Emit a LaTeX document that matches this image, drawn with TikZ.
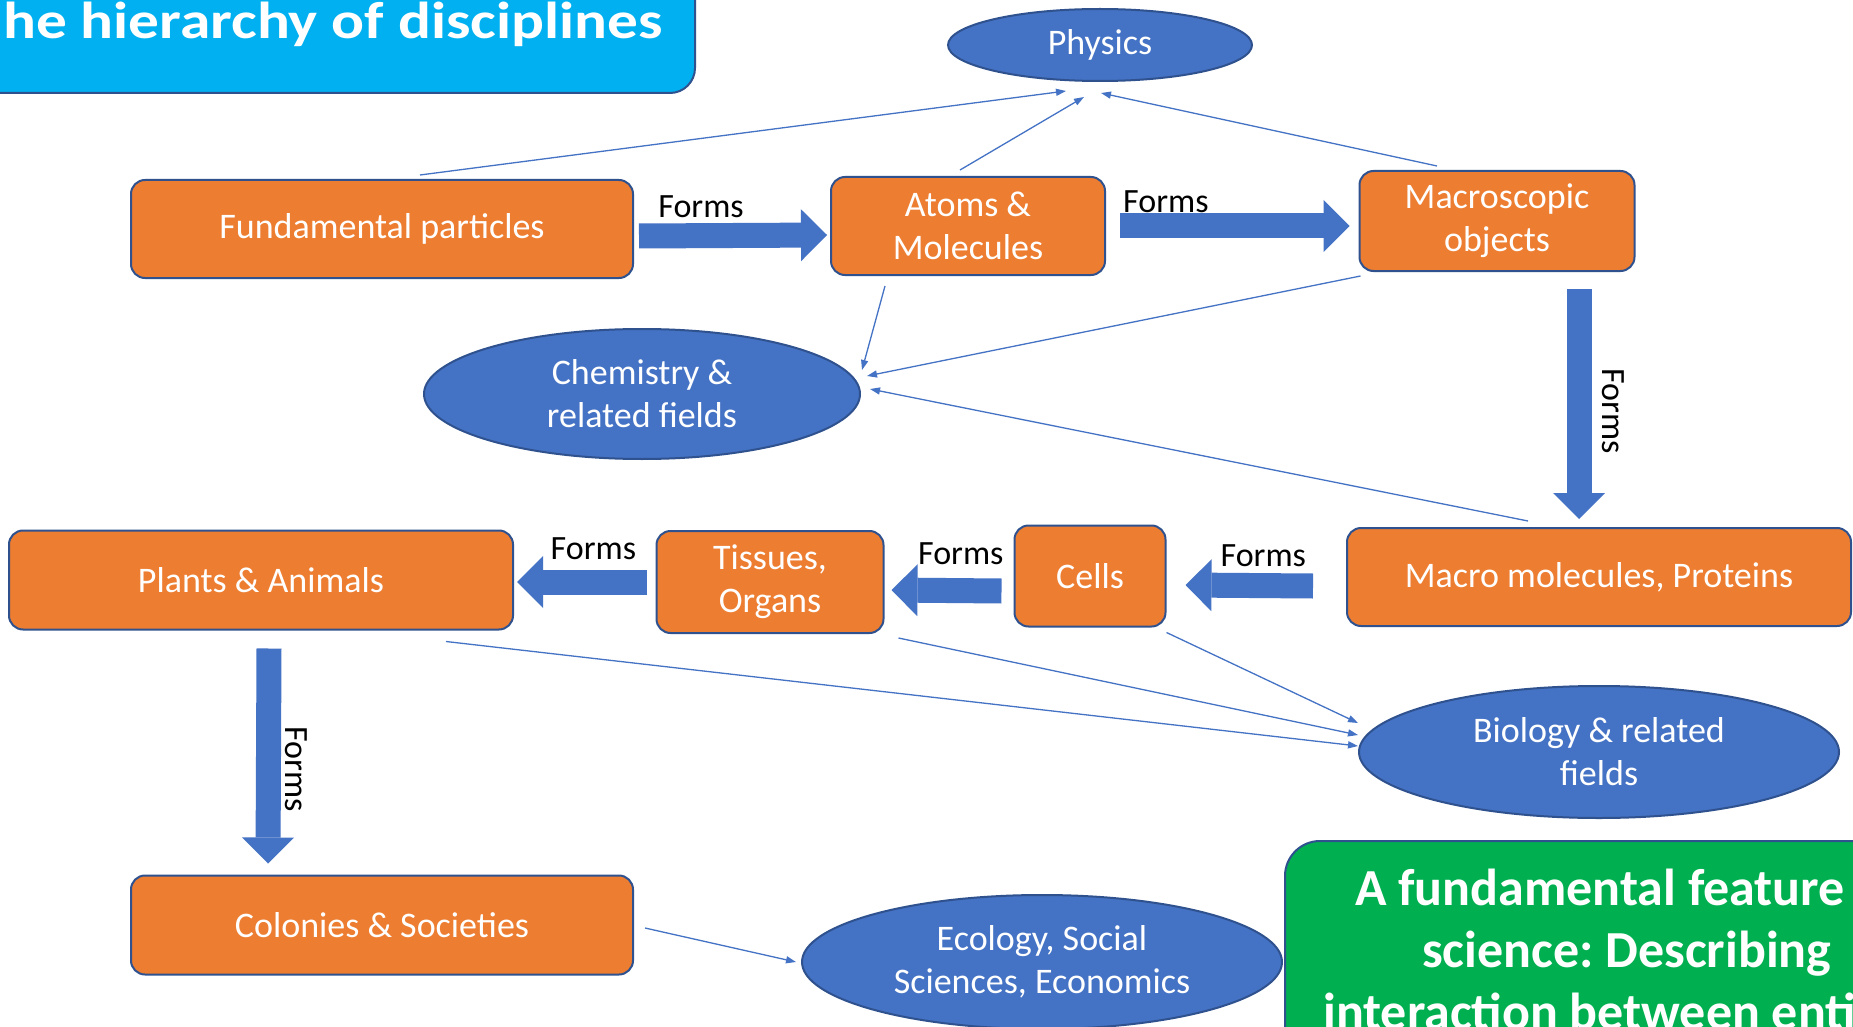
\documentclass[tikz,border=0pt]{standalone}
\usepackage{fontspec}
\setmainfont{Carlito}
\usetikzlibrary{arrows.meta, shapes.geometric}
\frenchspacing

\definecolor{boxorange}{HTML}{ED7D31}
\definecolor{fieldblue}{HTML}{4472C4}
\definecolor{edgeblue}{HTML}{2F528F}
\definecolor{titlecyan}{HTML}{00B0F0}
\definecolor{notegreen}{HTML}{00B050}

\begin{document}
\begin{tikzpicture}[
        x=1pt, y=-1pt,
        every node/.style={inner sep=0pt},
        box/.style={
          draw=edgeblue,
          line width=2pt,
          fill=boxorange,
          rounded corners=14pt,
          text=white,
          align=center,
          font=\fontsize{36}{43}\selectfont
        },
        field/.style={
          ellipse,
          draw=edgeblue,
          line width=2pt,
          fill=fieldblue,
          text=white,
          align=center,
          font=\fontsize{36}{43}\selectfont
        },
        formsarrow/.style={
          draw=fieldblue,
          line width=25pt,
          -{Triangle[length=26pt, width=52pt, line width=0pt]}
        },
        formstext/.style={outer sep=0pt, font=\fontsize{34}{40}\selectfont},
        relates/.style={
          color=fieldblue,
          line width=1.3pt,
          -{Triangle[length=10pt, width=7pt]}
        },
        headline/.style={text=white, font=\fontsize{52}{56}\selectfont\bfseries},
        notetext/.style={text=white, font=\fontsize{52}{60}\selectfont\bfseries}
      ]
      \useasboundingbox (0,0) rectangle (1853,1027);
      \clip (0,0) rectangle (1853,1027);
      \fill[white] (0,0) rectangle (1853,1027);

      \draw[draw=edgeblue, line width=2pt, fill=titlecyan, rounded corners=25pt]
        (-40,-40) rectangle (695,93);
      \node[headline, anchor=base west] (title) at (3,39) {\scalebox{1.18}[1]{he hierarchy of disciplines}};

      \node[field, minimum width=304pt, minimum height=72pt] (phys) at (1100,45) {Physics};
      \node[box, minimum width=502pt, minimum height=98pt] (fund) at (382,229) {Fundamental particles};
      \node[box, minimum width=274pt, minimum height=98pt] (atoms) at (968,226) {Atoms \&\\Molecules};
      \node[box, minimum width=275pt, minimum height=100pt] (macro) at (1497,221) {Macroscopic\\objects};
      \node[field, minimum width=436pt, minimum height=130pt] (chem) at (642,394) {Chemistry \&\\related fields};
      \node[box, minimum width=504pt, minimum height=98pt] (mm) at (1599,577) {Macro molecules, Proteins};
      \node[box, minimum width=151pt, minimum height=101pt] (cells) at (1090,576) {Cells};
      \node[box, minimum width=227pt, minimum height=102pt] (tis) at (770,582) {Tissues,\\Organs};
      \node[box, minimum width=504pt, minimum height=99pt] (plants) at (261,580) {Plants \& Animals};
      \node[field, minimum width=480pt, minimum height=132pt] (bio) at (1599,752) {Biology \& related\\fields};
      \node[box, minimum width=502pt, minimum height=99pt] (col) at (382,925) {Colonies \& Societies};
      \node[field, minimum width=480pt, minimum height=134pt] (eco) at (1042,962) {Ecology, Social\\Sciences, Economics};

      \draw[draw=edgeblue, line width=2pt, fill=notegreen, rounded corners=35pt]
        (1285,841) rectangle (1900,1100);
      \node[notetext, anchor=base west] (note1) at (1355,905) {A fundamental feature};
      \node[notetext, anchor=base west] (note2) at (1422,967) {science: Describing};
      \node[notetext, anchor=base west] (note3) at (1323,1029) {interaction between enti};

      \draw[formsarrow] ([xshift=5pt,yshift=-7pt]fund.east)
        -- node[formstext, pos=0.33, above=18pt] (f1) {Forms} ([xshift=-3pt,yshift=-9pt]atoms.west);
      \draw[formsarrow] ([xshift=14pt]atoms.east)
        -- node[formstext, pos=0.2, above=13pt] (f2) {Forms} ([xshift=-9pt,yshift=-5pt]macro.west);
      \draw[formsarrow] ([xshift=82pt,yshift=-17pt]macro.south)
        -- node[formstext, xshift=34pt, rotate=-90, pos=0.53] (f3) {Forms} ([xshift=-20pt,yshift=8pt]mm.north);
      \draw[formsarrow] ([xshift=-33pt,yshift=-9pt]mm.west)
        -- node[formstext, pos=0.39, above=19pt] (f4) {Forms} ([xshift=19pt,yshift=-9pt]cells.east);
      \draw[formsarrow] ([xshift=-12pt,yshift=-15pt]cells.west)
        -- node[formstext, pos=0.37, above=26pt] (f5) {Forms} ([xshift=7pt,yshift=-8pt]tis.east);
      \draw[formsarrow] ([xshift=-9pt]tis.west)
        -- node[formstext, pos=0.41, above=22pt] (f6) {Forms} ([xshift=3pt,yshift=-2pt]plants.east);
      \draw[formsarrow] ([xshift=8pt,yshift=-18pt]plants.south)
        -- node[formstext, xshift=28pt, rotate=-90, pos=0.56] (f7) {Forms} ([xshift=-114pt,yshift=11pt]col.north);

      \path[relates]
      ([xshift=38pt,yshift=4pt]fund.north)     edge ([xshift=-34pt,yshift=-9pt]phys.south)
      ([xshift=-8pt,yshift=6pt]atoms.north)    edge ([xshift=-16pt,yshift=-15pt]phys.south)
      ([xshift=-60pt,yshift=4pt]macro.north)   edge ([xshift=1pt,yshift=-11pt]phys.south)
      ([xshift=-83pt,yshift=-10pt]atoms.south) edge ([xshift=1pt,yshift=24pt]chem.east)
      ([xshift=2pt,yshift=-4pt]macro.south west) edge ([xshift=6pt,yshift=18pt]chem.east)
      ([xshift=-71pt,yshift=6pt]mm.north)      edge ([xshift=9pt,yshift=5pt]chem.east)
      ([yshift=-5pt]cells.south east)          edge ([yshift=29pt]bio.west)
      ([xshift=14pt,yshift=-4pt]tis.south east) edge ([yshift=17pt]bio.west)
      ([xshift=185pt,yshift=-11pt]plants.south) edge ([yshift=6pt]bio.west)
      ([xshift=11pt,yshift=-3pt]col.east)      edge ([xshift=-5pt]eco.west);
    \end{tikzpicture}
\end{document}
